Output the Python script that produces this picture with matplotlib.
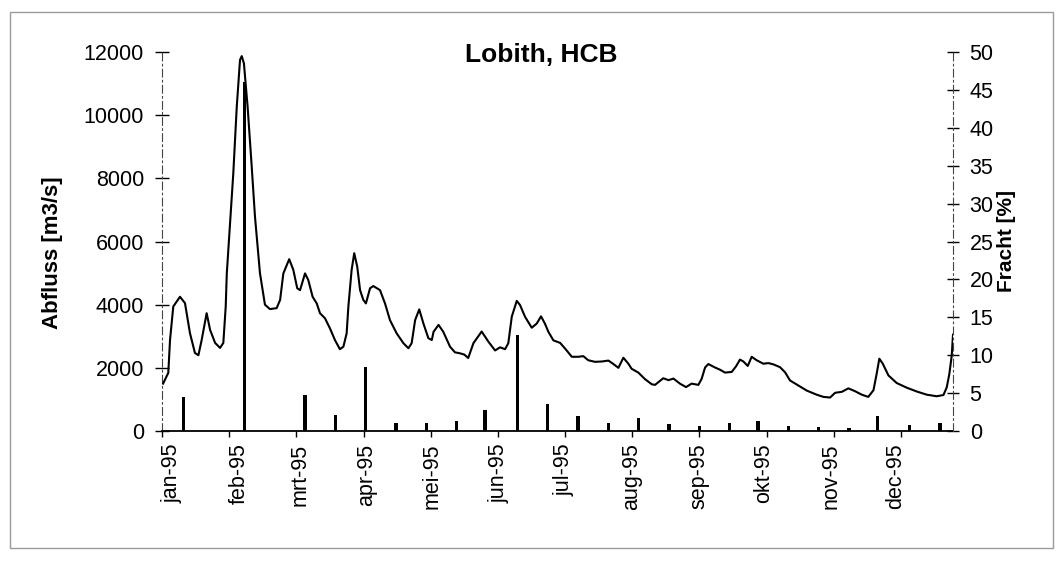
import matplotlib
matplotlib.use("Agg")
import matplotlib.pyplot as plt
import matplotlib.transforms as mtransforms
from matplotlib.patches import Rectangle

plt.rcParams['font.family'] = ['Liberation Sans', 'DejaVu Sans']

# Daily discharge at Lobith (day of year, m3/s)
flow_day = [0.5, 2.9, 3.7, 5.2, 8.3, 10.6, 12.9, 15.2, 16.8, 18.3, 20.6, 22.2, 24.5, 26.8,
            28.3, 29.4, 29.9, 31.4, 32.9, 34.5, 36.0, 36.8, 37.8, 39.5, 41.4, 42.9, 45.2,
            47.5, 49.8, 52.9, 54.5, 56.0, 58.7, 60.6, 62.4, 63.7, 66.0, 67.5, 69.5, 71.4,
            72.9, 75.2, 77.5, 79.8, 82.1, 83.7, 85.2, 86.0, 87.5, 88.7, 90.1, 91.4, 92.9,
            94.1, 96.0, 97.5, 100.6, 102.9, 105.2, 108.3, 111.4, 113.7, 115.2, 116.8, 118.7,
            120.6, 122.9, 124.5, 125.3, 127.6, 129.8, 132.9, 135.2, 137.5, 139.5, 141.3,
            143.7, 147.5, 150.6, 153.7, 156.0, 158.3, 159.8, 161.4, 163.7, 165.2, 167.5,
            170.6, 172.9, 174.9, 176.7, 178.3, 180.6, 183.7, 186.0, 189.1, 192.1, 194.4,
            196.7, 199.8, 202.9, 206.0, 208.3, 210.6, 212.9, 215.2, 216.7, 219.8, 222.9,
            226.0, 227.5, 231.3, 233.7, 236.0, 239.0, 241.8, 244.4, 247.5, 249.0, 250.6,
            252.1, 255.2, 257.5, 259.8, 262.9, 264.9, 266.7, 268.3, 270.3, 272.1, 274.4,
            277.5, 279.8, 282.1, 285.2, 287.5, 289.8, 292.9, 297.5, 302.1, 305.2, 308.3,
            310.6, 313.7, 316.7, 319.8, 322.9, 325.9, 328.3, 329.8, 331.0, 332.6, 335.2,
            339.0, 343.7, 348.3, 352.9, 357.5, 360.6, 362.1, 363.3, 364.4, 365.0]
flow_val = [1500, 1840, 2880, 3940, 4250, 4050, 3100, 2470, 2400, 2880, 3730, 3200, 2790, 2630,
            2790, 3940, 4990, 6580, 8160, 10270, 11750, 11870, 11640, 10270, 8370, 6790, 5000,
            4000, 3860, 3890, 4150, 4990, 5440, 5100, 4520, 4460, 4990, 4780, 4250, 4040,
            3730, 3570, 3250, 2880, 2590, 2670, 3090, 3940, 5100, 5630, 5200, 4460, 4150,
            4040, 4520, 4590, 4460, 4040, 3510, 3090, 2780, 2620, 2780, 3510, 3850,
            3410, 2940, 2880, 3140, 3360, 3140, 2670, 2490, 2460, 2420, 2310,
            2780, 3150, 2830, 2550, 2650, 2590, 2780, 3620, 4120, 3990, 3620,
            3270, 3400, 3630, 3400, 3140, 2870, 2790, 2610, 2350, 2350, 2370,
            2240, 2190, 2200, 2230, 2120, 2000, 2320, 2130, 1970, 1850, 1640,
            1480, 1460, 1670, 1610, 1660, 1500, 1390, 1500, 1460, 1650, 2010,
            2120, 2010, 1940, 1850, 1870, 2050, 2260, 2200, 2060, 2350, 2240,
            2130, 2150, 2110, 2020, 1860, 1600, 1470, 1280, 1150, 1080, 1060,
            1210, 1240, 1350, 1260, 1150, 1080, 1290, 1820, 2290, 2130, 1760,
            1520, 1370, 1250, 1150, 1100, 1140, 1380, 1800, 2380, 3050]

# HCB load share per sample (day of year, %)
load_day = [10, 38, 66, 80, 94, 108, 122, 136, 149, 164, 178, 192, 206, 220, 234, 248,
            262, 275, 289, 303, 317, 330, 345, 359]
load_pct = [4.5, 46, 4.7, 2.1, 8.4, 1.1, 1.0, 1.3, 2.8, 12.6, 3.5, 2.0, 1.0, 1.7, 0.9, 0.65,
            1.0, 1.3, 0.66, 0.5, 0.45, 2.0, 0.8, 1.0]

month_labels = ['jan-95', 'feb-95', 'mrt-95', 'apr-95', 'mei-95', 'jun-95',
                'jul-95', 'aug-95', 'sep-95', 'okt-95', 'nov-95', 'dec-95']
month_lengths = [31, 28, 31, 30, 31, 30, 31, 31, 30, 31, 30, 31]


def main():
    fig = plt.figure(figsize=(10.64, 5.62), dpi=100)
    ax = fig.add_axes([162 / 1064, 1 - 431 / 562, (953 - 162) / 1064, (431 - 52) / 562])
    ax2 = ax.twinx()

    ax.plot(flow_day, flow_val, color='black', lw=1.5, zorder=3)
    ax2.bar(load_day, load_pct, width=1.5, color='black', zorder=2)

    ax.set_xlim(0, 365)
    ax.set_ylim(0, 12000)
    ax2.set_ylim(0, 50)

    # spines: dash-dot value axes, solid category axis, no box
    for a in (ax, ax2):
        a.spines['top'].set_visible(False)
    ax.spines['right'].set_visible(False)
    ax2.spines['left'].set_visible(False)
    ax2.spines['bottom'].set_visible(False)
    ax.spines['left'].set_linestyle((0, (7, 3, 1.5, 3)))
    ax.spines['left'].set_color('#444444')
    ax2.spines['right'].set_linestyle((0, (7, 3, 1.5, 3)))
    ax2.spines['right'].set_color('#444444')
    ax.spines['bottom'].set_linewidth(1.3)

    ax.set_yticks(range(0, 12001, 2000))
    ax2.set_yticks(range(0, 51, 5))
    ax.tick_params(axis='y', direction='inout', length=10, width=1, labelsize=15.5, pad=8)
    ax2.tick_params(axis='y', direction='inout', length=8, width=1, labelsize=15.5, pad=8)

    # major ticks every 31 days, month labels at month starts
    ax.xaxis.remove_overlapping_locs = False
    ax.set_xticks(range(0, 365, 31), [''] * 12)
    ax.tick_params(axis='x', which='major', direction='out', length=4, width=1)
    month_start = [sum(month_lengths[:i]) for i in range(12)]
    ax.set_xticks(month_start, month_labels, minor=True, rotation=90)
    ax.tick_params(axis='x', which='minor', length=0, labelsize=15.5, pad=9)
    shift = mtransforms.ScaledTranslation(10 / 100, 0, fig.dpi_scale_trans)
    for lbl in ax.get_xticklabels(minor=True):
        lbl.set_transform(lbl.get_transform() + shift)

    ax.set_ylabel('Abfluss [m3/s]', fontsize=16, fontweight='bold')
    ax.yaxis.set_label_coords(-0.125, 0.47)
    ax2.set_ylabel('Fracht [%]', fontsize=15, fontweight='bold', labelpad=2)
    ax.set_title('Lobith, HCB', fontsize=19, fontweight='bold', x=0.48, y=0.97, va='center')

    fig.add_artist(Rectangle((10 / 1064, 14 / 562), 1043 / 1064, 536 / 562,
                             transform=fig.transFigure, fill=False, lw=1, ec='#9a9a9a'))

    fig.savefig('out.png', dpi=100)


if __name__ == '__main__':
    main()
